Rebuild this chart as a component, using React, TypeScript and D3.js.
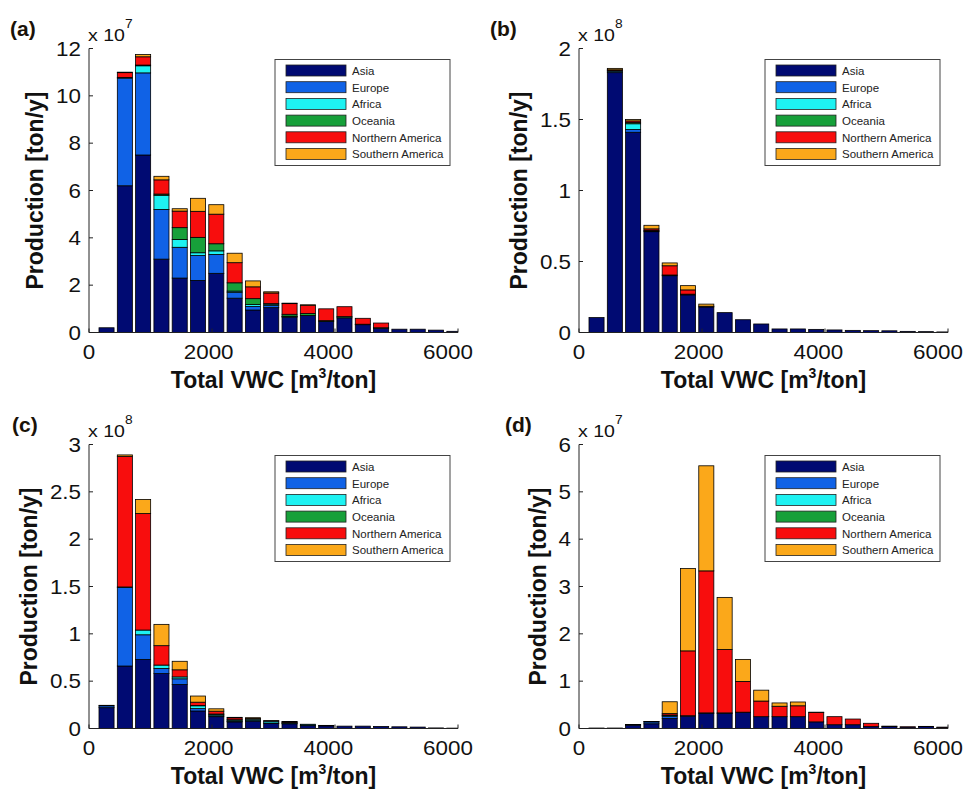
import * as d3 from 'd3';
import React from 'react';

// VWC bin centres [m3/ton]
const binCenters = [285, 583, 880, 1178, 1475, 1773, 2070, 2368, 2666, 2963, 3261, 3559, 3857, 4154, 4452, 4750, 5047, 5345, 5643, 5941];
const regions = ['Asia', 'Europe', 'Africa', 'Oceania', 'Northern America', 'Southern America'];
const regionColors = ['#000A72', '#1062E6', '#1EF2F2', '#17A03A', '#F80D0D', '#FBA81A'];
const xTicks = [0, 2000, 4000, 6000];

// (a) x 10^7 ton/y
const aAsia = [0.2, 6.2, 7.5, 3.1, 2.3, 2.2, 2.5, 1.45, 0.95, 1.05, 0.65, 0.72, 0.47, 0.62, 0.33, 0.18, 0.14, 0.14, 0.1, 0.05];
const aEurope = [0, 4.55, 3.47, 2.1, 1.3, 1.05, 0.8, 0.25, 0.15, 0.1, 0.02, 0, 0, 0, 0, 0, 0, 0, 0, 0];
const aAfrica = [0, 0.03, 0.3, 0.6, 0.33, 0.12, 0.15, 0.05, 0.08, 0.05, 0.02, 0, 0, 0, 0, 0, 0, 0, 0, 0];
const aOceania = [0, 0, 0.03, 0.05, 0.5, 0.65, 0.3, 0.35, 0.25, 0.02, 0.08, 0.08, 0.03, 0.05, 0.02, 0.02, 0, 0, 0, 0];
const aNorthAm = [0, 0.2, 0.35, 0.6, 0.7, 1.1, 1.25, 0.85, 0.5, 0.45, 0.45, 0.35, 0.5, 0.42, 0.25, 0.2, 0, 0, 0, 0];
const aSouthAm = [0, 0.02, 0.1, 0.15, 0.1, 0.55, 0.4, 0.4, 0.25, 0.05, 0.02, 0.02, 0, 0, 0, 0, 0, 0, 0, 0];
const aTicks = [0, 2, 4, 6, 8, 10, 12];

// (b) x 10^8 ton/y
const bAsia = [0.105, 1.83, 1.41, 0.71, 0.4, 0.265, 0.18, 0.14, 0.09, 0.06, 0.025, 0.025, 0.022, 0.018, 0.015, 0.013, 0.012, 0.008, 0.006, 0.004];
const bEurope = [0, 0.01, 0.02, 0.005, 0.005, 0, 0, 0, 0, 0, 0, 0, 0, 0, 0, 0, 0, 0, 0, 0];
const bAfrica = [0, 0.005, 0.04, 0.005, 0, 0.005, 0, 0, 0, 0, 0, 0, 0, 0, 0, 0, 0, 0, 0, 0];
const bOceania = [0, 0, 0.01, 0, 0, 0, 0, 0, 0, 0, 0, 0, 0, 0, 0, 0, 0, 0, 0, 0];
const bNorthAm = [0, 0.005, 0.01, 0.01, 0.065, 0.03, 0.005, 0, 0, 0, 0, 0, 0, 0, 0, 0, 0, 0, 0, 0];
const bSouthAm = [0, 0.01, 0.01, 0.025, 0.02, 0.03, 0.015, 0, 0, 0, 0, 0, 0, 0, 0, 0, 0, 0, 0, 0];
const bTicks = [0, 0.5, 1, 1.5, 2];

// (c) x 10^8 ton/y
const cAsia = [0.22, 0.66, 0.73, 0.58, 0.465, 0.185, 0.125, 0.07, 0.078, 0.053, 0.05, 0.03, 0.028, 0.025, 0.025, 0.022, 0.018, 0.015, 0.006, 0.004];
const cEurope = [0.02, 0.83, 0.26, 0.055, 0.06, 0.025, 0.01, 0.005, 0.005, 0.005, 0.005, 0.005, 0.002, 0, 0, 0, 0, 0, 0, 0];
const cAfrica = [0.005, 0.005, 0.05, 0.035, 0.02, 0.03, 0.015, 0.013, 0.016, 0.02, 0.01, 0.01, 0.003, 0, 0, 0, 0, 0, 0, 0];
const cOceania = [0, 0, 0, 0, 0, 0.003, 0.003, 0.005, 0, 0, 0, 0, 0, 0, 0, 0, 0, 0, 0, 0];
const cNorthAm = [0, 1.38, 1.23, 0.205, 0.075, 0.035, 0.03, 0.02, 0.005, 0.002, 0.005, 0, 0, 0, 0, 0, 0, 0, 0, 0];
const cSouthAm = [0, 0.015, 0.15, 0.225, 0.09, 0.065, 0.025, 0.005, 0.01, 0.003, 0.005, 0, 0, 0, 0, 0, 0, 0, 0, 0];
const cTicks = [0, 0.5, 1, 1.5, 2, 2.5, 3];

// (d) x 10^7 ton/y
const dAsia = [0.01, 0.01, 0.07, 0.1, 0.21, 0.26, 0.32, 0.32, 0.34, 0.25, 0.25, 0.25, 0.14, 0.08, 0.08, 0.04, 0.04, 0.03, 0.04, 0.025];
const dEurope = [0, 0, 0.01, 0.04, 0.05, 0.01, 0.01, 0.01, 0.005, 0, 0, 0, 0, 0, 0, 0, 0, 0, 0, 0];
const dAfrica = [0, 0, 0, 0.005, 0.02, 0, 0, 0, 0, 0, 0, 0, 0, 0, 0, 0, 0, 0, 0, 0];
const dOceania = [0, 0, 0, 0, 0.005, 0, 0, 0, 0, 0, 0, 0, 0, 0, 0, 0, 0, 0, 0, 0];
const dNorthAm = [0, 0, 0.005, 0.005, 0.03, 1.37, 3.0, 1.34, 0.65, 0.33, 0.22, 0.23, 0.2, 0.17, 0.12, 0.07, 0.01, 0.005, 0.005, 0.003];
const dSouthAm = [0, 0, 0, 0, 0.25, 1.74, 2.22, 1.1, 0.465, 0.23, 0.07, 0.08, 0.005, 0, 0, 0, 0, 0, 0, 0];
const dTicks = [0, 1, 2, 3, 4, 5, 6];

const FONT = "'Liberation Sans', Arial, Helvetica, sans-serif";
const BAR_W = 245;

type PanelProps = {
  id: string;
  label: string;
  exponent: string;
  series: number[][];
  ticks: number[];
  left: number;
  top: number;
  labelX: number;
  ylabelGap: number;
};

const W = 369;
const H = 284;

const Panel: React.FC<PanelProps> = ({ id, label, exponent, series, ticks, left, top, labelX, ylabelGap }) => {
  const bottom = top + H;
  const right = left + W;
  const x = d3.scaleLinear().domain([0, 6000]).range([left, right]);
  const y = d3.scaleLinear().domain([0, ticks[ticks.length - 1]]).range([bottom, top]);

  const rows = binCenters.map((c, i) => {
    const r: Record<string, number> = { vwc: c };
    regions.forEach((name, k) => { r[name] = series[k][i]; });
    return r;
  });
  const stacked = d3.stack<Record<string, number>>().keys(regions)(rows);
  const bw = x(BAR_W) - x(0);

  const lx = left + 186;
  const ly = top + 11;

  return (
    <g>
      <defs>
        <clipPath id={`clip-${id}`}>
          <rect x={left} y={top - 5} width={W} height={H + 5} />
        </clipPath>
      </defs>
      <g clipPath={`url(#clip-${id})`}>
        {stacked.map((layer, k) => (
          <g key={layer.key} fill={regionColors[k]}>
            {layer.map((d, i) => (
              <rect key={i} x={x(binCenters[i]) - bw / 2} y={y(d[1])} width={bw}
                height={Math.max(0, y(d[0]) - y(d[1]))} stroke="#000" strokeWidth={0.8} />
            ))}
          </g>
        ))}
      </g>
      {/* axes */}
      <line x1={left} x2={left} y1={top} y2={bottom} stroke="#222" strokeWidth={1} />
      <line x1={left} x2={right} y1={bottom} y2={bottom} stroke="#222" strokeWidth={1} />
      {ticks.map(t => (
        <g key={t}>
          <line x1={left} x2={left + 4} y1={y(t)} y2={y(t)} stroke="#222" />
          <text transform={`translate(${left - 8},${y(t) + 7}) scale(1.12,1)`} textAnchor="end"
            fontSize={20} fontFamily={FONT} fill="#111">{t}</text>
        </g>
      ))}
      {xTicks.map(t => (
        <g key={t}>
          <line x1={x(t)} x2={x(t)} y1={bottom} y2={bottom - 4} stroke="#222" />
          <text transform={`translate(${x(t) - (t / 6000) * 10},${bottom + 26.5}) scale(1.12,1)`} textAnchor="middle"
            fontSize={20} fontFamily={FONT} fill="#111">{t}</text>
        </g>
      ))}
      {/* multiplier */}
      <text transform={`translate(${left - 1},${top - 8}) scale(1.15,1)`} fontSize={17} fontFamily={FONT} fill="#111">
        x 10<tspan fontSize={12} dy={-13}>{exponent}</tspan>
      </text>
      {/* axis labels */}
      <text x={(left + right) / 2 - 0} y={bottom + 55.5} textAnchor="middle" fontSize={23}
        fontWeight="bold" fontFamily={FONT} fill="#111">
        Total VWC [m<tspan fontSize={14} dy={-10}>3</tspan><tspan dy={10}>/ton]</tspan>
      </text>
      <text transform={`translate(${left - ylabelGap},${(top + bottom) / 2}) rotate(-90)`} textAnchor="middle"
        fontSize={23} fontWeight="bold" fontFamily={FONT} fill="#111">Production [ton/y]</text>
      <text x={labelX} y={top - 13} fontSize={21} fontWeight="bold" fontFamily={FONT} fill="#1a1208">{label}</text>
      {/* legend */}
      <rect x={lx} y={ly} width={175} height={106} fill="#fff" stroke="#444" strokeWidth={1} />
      {regions.map((name, k) => (
        <g key={name}>
          <rect x={lx + 11} y={ly + 5.5 + k * 16.7} width={60} height={11} fill={regionColors[k]}
            stroke="#222" strokeWidth={0.8} />
          <text x={lx + 77} y={ly + 15.3 + k * 16.7} fontSize={11.5} fontFamily={FONT} fill="#222">{name}</text>
        </g>
      ))}
    </g>
  );
};

export default function App() {
  return (
    <div style={{ position: 'absolute', left: 0, top: 0 }}>
      <svg width={971} height={791} style={{ display: 'block', background: '#fff' }}>
        <Panel id="a" label="(a)" exponent="7" ticks={aTicks}
          series={[aAsia, aEurope, aAfrica, aOceania, aNorthAm, aSouthAm]}
          left={89} top={48.5} labelX={10} ylabelGap={46} />
        <Panel id="b" label="(b)" exponent="8" ticks={bTicks}
          series={[bAsia, bEurope, bAfrica, bOceania, bNorthAm, bSouthAm]}
          left={579} top={48.5} labelX={490} ylabelGap={52} />
        <Panel id="c" label="(c)" exponent="8" ticks={cTicks}
          series={[cAsia, cEurope, cAfrica, cOceania, cNorthAm, cSouthAm]}
          left={89} top={444.5} labelX={12} ylabelGap={52} />
        <Panel id="d" label="(d)" exponent="7" ticks={dTicks}
          series={[dAsia, dEurope, dAfrica, dOceania, dNorthAm, dSouthAm]}
          left={579} top={444.5} labelX={505} ylabelGap={33} />
      </svg>
    </div>
  );
}
